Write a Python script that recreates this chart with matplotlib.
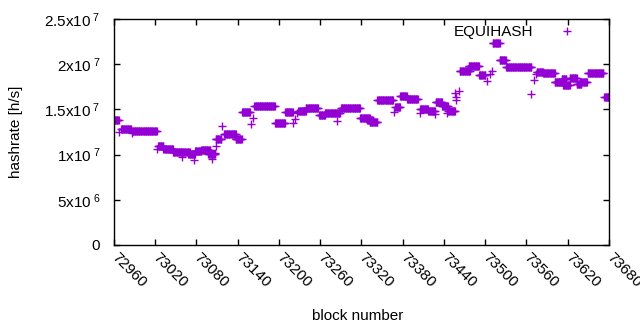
import numpy as np
import matplotlib
matplotlib.use("Agg")
import matplotlib.pyplot as plt
from matplotlib.lines import Line2D

plt.rcParams['font.family'] = ['Liberation Sans', 'DejaVu Sans']
plt.rcParams['mathtext.fontset'] = 'custom'
plt.rcParams['mathtext.rm'] = 'Liberation Sans'
plt.rcParams['mathtext.it'] = 'Liberation Sans:italic'

# Run-length description of the hashrate series: (first block, last block, hashrate)
seg_start = [72960, 72968, 72970, 72986, 72986, 73023, 73024, 73032, 73046, 73059, 73057,
             73068, 73076, 73078, 73087, 73097, 73103, 73107, 73108, 73108, 73117, 73120,
             73137, 73146, 73159, 73162, 73164, 73194, 73209, 73220, 73223, 73226, 73228,
             73239, 73258, 73267, 73284, 73290, 73318, 73328, 73332, 73343, 73368, 73369,
             73376, 73386, 73405, 73405, 73417, 73427, 73428, 73437, 73445, 73446, 73456,
             73457, 73458, 73462, 73463, 73476, 73491, 73503, 73507, 73510, 73511, 73521,
             73530, 73567, 73571, 73574, 73575, 73584, 73601, 73611, 73613, 73623, 73633,
             73638, 73649, 73673]
seg_end = [72967, 72968, 72985, 72986, 73022, 73023, 73032, 73046, 73057, 73059, 73070,
           73078, 73076, 73087, 73100, 73107, 73103, 73107, 73108, 73116, 73117, 73137,
           73146, 73158, 73159, 73162, 73194, 73209, 73220, 73220, 73223, 73226, 73239,
           73257, 73267, 73289, 73284, 73318, 73332, 73337, 73343, 73366, 73368, 73376,
           73386, 73402, 73405, 73417, 73427, 73427, 73437, 73446, 73445, 73456, 73456,
           73457, 73458, 73462, 73478, 73491, 73500, 73503, 73507, 73510, 73521, 73530,
           73567, 73567, 73571, 73574, 73584, 73601, 73611, 73618, 73623, 73633, 73640,
           73648, 73672, 73680]
seg_value = [13.8e6, 12.5e6, 12.8e6, 12.4e6, 12.65e6, 10.6e6, 10.9e6, 10.65e6, 10.25e6, 9.77e6, 10.3e6,
             10.1e6, 9.4e6, 10.4e6, 10.5e6, 10.1e6, 9.5e6, 10.2e6, 10.9e6, 11.7e6, 13.2e6, 12.3e6,
             11.7e6, 14.7e6, 13.4e6, 14.1e6, 15.4e6, 13.55e6, 14.7e6, 13.55e6, 13.95e6, 14.6e6, 14.8e6,
             15.2e6, 14.4e6, 14.55e6, 13.7e6, 15.2e6, 14.0e6, 13.8e6, 13.6e6, 16.0e6, 14.75e6, 15.25e6,
             16.45e6, 16.2e6, 14.6e6, 15.0e6, 14.85e6, 14.5e6, 15.8e6, 15.4e6, 14.6e6, 14.8e6, 16.8e6,
             16.4e6, 16.0e6, 17.0e6, 19.2e6, 19.8e6, 18.8e6, 18.1e6, 18.9e6, 19.3e6, 22.4e6, 20.5e6,
             19.7e6, 16.7e6, 18.25e6, 18.9e6, 19.1e6, 19.0e6, 18.0e6, 18.4e6, 17.7e6, 18.45e6, 17.8e6,
             18.0e6, 19.0e6, 16.4e6]

series_label = "EQUIHASH"
x_ticks = list(range(72960, 73681, 60))
y_ticks = [0, 5e6, 1e7, 1.5e7, 2e7, 2.5e7]
y_tick_labels = ["0", r"$\mathrm{5x10^{\ 6}}$", r"$\mathrm{1x10^{\ 7}}$",
                 r"$\mathrm{1.5x10^{\ 7}}$", r"$\mathrm{2x10^{\ 7}}$", r"$\mathrm{2.5x10^{\ 7}}$"]

blocks = []
rates = []
for s, e, v in zip(seg_start, seg_end, seg_value):
    b = np.arange(s, e + 1)
    blocks.append(b)
    rates.append(np.full(b.shape, v))
blocks = np.concatenate(blocks)
rates = np.concatenate(rates)

FS = 11
color = '#9400D3'
fig = plt.figure(figsize=(6.4, 3.3), dpi=100)
ax = fig.add_axes([114/640, 85/330, 495/640, 226/330])
ax.plot(blocks, rates, linestyle='none', marker='+', markersize=5.8,
        markeredgewidth=1.0, color=color, label=series_label)

ax.set_xlim(72960, 73680)
ax.set_ylim(0, 2.5e7)
ax.set_xticks(x_ticks)
ax.set_xticklabels([str(t) for t in x_ticks], rotation=-45, ha='left', va='center',
                   rotation_mode='anchor', fontsize=FS)
ax.set_yticks(y_ticks)
ax.set_yticklabels(y_tick_labels, fontsize=FS)
ax.tick_params(direction='in', length=4, width=1, top=True, right=True)
ax.tick_params(axis='y', pad=10)
ax.tick_params(axis='x', pad=7)
for sp in ax.spines.values():
    sp.set_linewidth(1)
ax.set_xlabel("block number", fontsize=FS)
ax.set_ylabel("hashrate [h/s]", fontsize=FS)
ax.xaxis.set_label_coords((358-114)/495, (245-316)/226)
ax.xaxis.label.set_va('center')
ax.yaxis.set_label_coords((16-114)/495, 0.5)
ax.yaxis.label.set_va('center')

handle = Line2D([], [], linestyle='none', marker='+', markersize=6, markeredgewidth=1.0, color=color)
ax.legend([handle], [series_label], loc='center right',
          bbox_to_anchor=((574.6-114)/495, (245-32)/226),
          frameon=False, markerfirst=False, fontsize=FS, handlelength=1.0,
          handletextpad=1.73, borderaxespad=0, borderpad=0)

fig.savefig("out.png", dpi=100)
